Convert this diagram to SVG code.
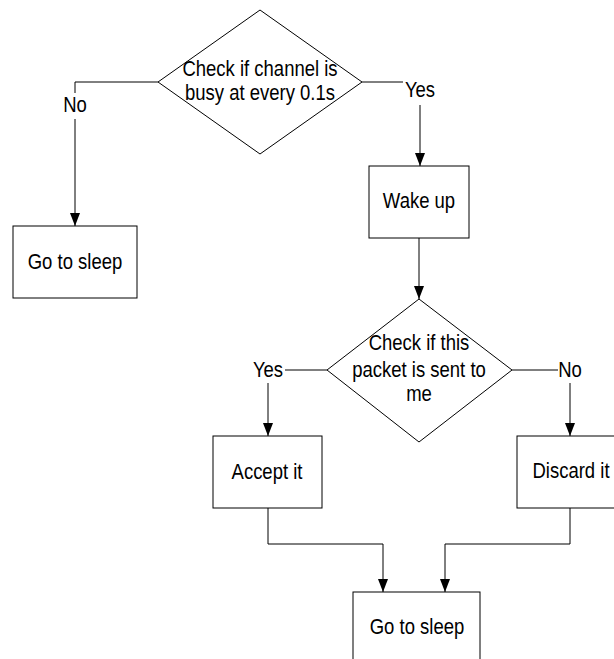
<svg xmlns="http://www.w3.org/2000/svg" width="614" height="659" viewBox="0 0 614 659">
<style>
.shape{fill:#fff;stroke:#000;stroke-width:1}
.conn{fill:none;stroke:#000;stroke-width:1}
.lbg{fill:#fff;stroke:none}
text{font-family:"Liberation Sans",Arial,sans-serif;font-size:18.5px;fill:#000;text-anchor:middle}
</style>
<defs>
<marker id="ah" markerUnits="userSpaceOnUse" markerWidth="13" markerHeight="12" viewBox="0 0 13 12" refX="13" refY="6" orient="auto">
<path d="M0,1 L13,6 L0,11 Z" fill="#000"/>
</marker>
</defs>
<rect width="614" height="659" fill="#fff"/>
<g id="connectors">
<path class="conn" d="M158,82 H75 V226" marker-end="url(#ah)"/>
<path class="conn" d="M362,82 H420 V166" marker-end="url(#ah)"/>
<path class="conn" d="M419,238 V299" marker-end="url(#ah)"/>
<path class="conn" d="M327,370 H268 V436" marker-end="url(#ah)"/>
<path class="conn" d="M512,370 H570 V436" marker-end="url(#ah)"/>
<path class="conn" d="M268,508 V544 H383 V592" marker-end="url(#ah)"/>
<path class="conn" d="M570,508 V544 H445 V592" marker-end="url(#ah)"/>
<g id="labels">
<rect class="lbg" x="62" y="93" width="26" height="26"/>
<text transform="translate(75,112) scale(1,1.18)">No</text>
<rect class="lbg" x="403" y="80" width="35" height="25"/>
<text transform="translate(420,97) scale(1,1.18)">Yes</text>
<rect class="lbg" x="251" y="358" width="34" height="25"/>
<text transform="translate(268,377) scale(1,1.18)">Yes</text>
<rect class="lbg" x="558" y="358" width="25" height="25"/>
<text transform="translate(570,377) scale(1,1.18)">No</text>
</g>
</g>
<g id="check-channel">
<polygon class="shape" points="260,10 362,82 260,154 158,82"/>
<text transform="translate(260,76) scale(1,1.18)">Check if channel is</text>
<text transform="translate(260,100) scale(1,1.18)">busy at every 0.1s</text>
</g>
<g id="sleep1">
<rect class="shape" x="13" y="226" width="124" height="72"/>
<text transform="translate(75,269) scale(1,1.18)">Go to sleep</text>
</g>
<g id="wake-up">
<rect class="shape" x="369" y="166" width="100" height="72"/>
<text transform="translate(419,208) scale(1,1.18)">Wake up</text>
</g>
<g id="check-packet">
<polygon class="shape" points="419,299 512,370 419,442 327,370"/>
<text transform="translate(419,350) scale(1,1.18)">Check if this</text>
<text transform="translate(419,377) scale(1,1.18)">packet is sent to</text>
<text transform="translate(419,401) scale(1,1.18)">me</text>
</g>
<g id="accept">
<rect class="shape" x="213" y="436" width="109" height="72"/>
<text transform="translate(267,479) scale(1,1.18)">Accept it</text>
</g>
<g id="discard">
<rect class="shape" x="517" y="436" width="106" height="72"/>
<text transform="translate(571,478) scale(1,1.18)">Discard it</text>
</g>
<g id="sleep2">
<rect class="shape" x="353" y="592" width="127" height="72"/>
<text transform="translate(417,634) scale(1,1.18)">Go to sleep</text>
</g>
</svg>
